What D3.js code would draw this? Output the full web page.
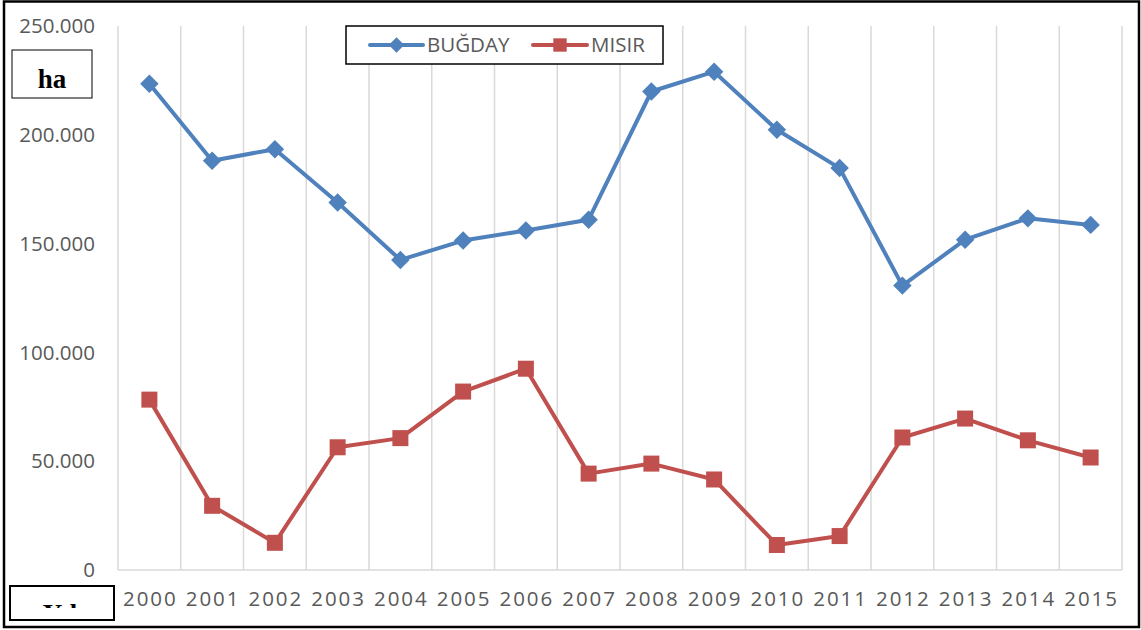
<!DOCTYPE html>
<html>
<head>
    <meta charset="utf-8">
    <title>Buğday ve Mısır Ekim Alanı</title>
    <style>
        body { margin: 0; background: #fff; }
        .tick-label { fill: #595959; font-family: "Open Sans", sans-serif; font-size: 20.5px; }
        .grid { stroke: #d9d9d9; stroke-width: 1.5px; }
        .box { fill: #fff; stroke: #000; }
        .box-text { font-family: "Liberation Serif", "DejaVu Serif", serif; font-weight: bold; font-size: 27px; fill: #000; }
    </style>
</head>
<body>
<svg width="1141" height="630"></svg>
<script src="https://d3js.org/d3.v7.min.js"></script>
<script>
const years = ["2000", "2001", "2002", "2003", "2004", "2005", "2006", "2007",
               "2008", "2009", "2010", "2011", "2012", "2013", "2014", "2015"];
const bugday = [223500, 188100, 193400, 168900, 142500, 151400, 156000, 161000,
                219900, 229000, 202300, 184700, 130700, 151800, 161600, 158600];
const misir = [78300, 29500, 12500, 56400, 60600, 82000, 92500, 44300,
               48900, 41600, 11500, 15600, 60900, 69600, 59600, 51700];
const yTicks = [0, 50000, 100000, 150000, 200000, 250000];

const svg = d3.select("svg");
const plotLeft = 118, plotRight = 1122, plotTop = 26, plotBottom = 570;

const x = d3.scaleBand().domain(years).range([plotLeft, plotRight]);
const y = d3.scaleLinear().domain([0, 250000]).range([plotBottom, plotTop]);
const fmt = d3.formatLocale({ decimal: ",", thousands: ".", grouping: [3], currency: ["", ""] }).format(",");

// outer frame
svg.append("rect")
    .attr("x", 4).attr("y", 1.5).attr("width", 1135).attr("height", 625.5)
    .attr("fill", "none").attr("stroke", "#000").attr("stroke-width", 2.5);

// vertical grid lines at category boundaries
const bounds = years.map(d => x(d)).concat([plotRight]);
svg.append("g")
    .selectAll("line")
    .data(bounds)
    .join("line")
    .attr("class", "grid")
    .attr("x1", d => d).attr("x2", d => d)
    .attr("y1", plotTop).attr("y2", plotBottom);

// bottom axis line
svg.append("line")
    .attr("class", "grid")
    .attr("x1", plotLeft).attr("x2", plotRight)
    .attr("y1", plotBottom).attr("y2", plotBottom);

// y tick labels
svg.append("g")
    .selectAll("text")
    .data(yTicks)
    .join("text")
    .attr("class", "tick-label")
    .attr("x", 95)
    .attr("y", d => y(d))
    .attr("dy", "0.35em")
    .attr("text-anchor", "end")
    .text(d => fmt(d));

// x tick labels
svg.append("g")
    .selectAll("text")
    .data(years)
    .join("text")
    .attr("class", "tick-label")
    .attr("x", d => x(d) + x.bandwidth() / 2 + 1)
    .attr("y", 606)
    .attr("text-anchor", "middle")
    .attr("letter-spacing", "2px")
    .text(d => d);

const series = [
    { name: "BUĞDAY", values: bugday, color: "#4f81bd", shape: "diamond" },
    { name: "MISIR", values: misir, color: "#c0504d", shape: "square" }
];

const cx = (d, i) => x(years[i]) + x.bandwidth() / 2;
const line = d3.line().x(cx).y(d => y(d));

function marker(g, shape, color, scale) {
    if (shape === "diamond") {
        g.append("path")
            .attr("d", d3.symbol(d3.symbolSquare, 170 * scale)())
            .attr("transform", "rotate(45)")
            .attr("fill", color);
    } else {
        const s = 16 * Math.sqrt(scale);
        g.append("rect")
            .attr("x", -s / 2).attr("y", -s / 2)
            .attr("width", s).attr("height", s)
            .attr("fill", color);
    }
}

series.forEach(s => {
    svg.append("path")
        .datum(s.values)
        .attr("fill", "none")
        .attr("stroke", s.color)
        .attr("stroke-width", 4)
        .attr("stroke-linejoin", "round")
        .attr("d", line);

    svg.append("g")
        .selectAll("g")
        .data(s.values)
        .join("g")
        .attr("transform", (d, i) => `translate(${cx(d, i)},${y(d)})`)
        .each(function () { marker(d3.select(this), s.shape, s.color, 1); });
});

// legend
const legend = svg.append("g");
legend.append("rect")
    .attr("class", "box")
    .attr("x", 346).attr("y", 26).attr("width", 317).attr("height", 38)
    .attr("stroke-width", 1.5);

const legendItems = [
    { s: series[0], x1: 370, x2: 423, tx: 427 },
    { s: series[1], x1: 533, x2: 587, tx: 591 }
];
legendItems.forEach(li => {
    legend.append("line")
        .attr("x1", li.x1).attr("x2", li.x2)
        .attr("y1", 45).attr("y2", 45)
        .attr("stroke", li.s.color).attr("stroke-width", 4)
        .attr("stroke-linecap", "round");
    const m = legend.append("g").attr("transform", `translate(${(li.x1 + li.x2) / 2},45)`);
    marker(m, li.s.shape, li.s.color, 0.7);
    legend.append("text")
        .attr("class", "tick-label")
        .attr("x", li.tx).attr("y", 45)
        .attr("dy", "0.35em")
        .text(li.s.name);
});

// "ha" text box
svg.append("rect")
    .attr("class", "box")
    .attr("x", 12).attr("y", 50).attr("width", 80).attr("height", 48)
    .attr("stroke-width", 1);
svg.append("text")
    .attr("class", "box-text")
    .attr("x", 52).attr("y", 88)
    .attr("text-anchor", "middle")
    .text("ha");

// "Yıl" text box, text clipped like the original
svg.append("clipPath").attr("id", "yil-clip")
    .append("rect").attr("x", 10).attr("y", 586).attr("width", 104).attr("height", 22);
svg.append("rect")
    .attr("class", "box")
    .attr("x", 10).attr("y", 586).attr("width", 104).attr("height", 34)
    .attr("stroke-width", 2);
svg.append("text")
    .attr("class", "box-text")
    .attr("x", 60).attr("y", 623)
    .attr("text-anchor", "middle")
    .attr("clip-path", "url(#yil-clip)")
    .text("Yıl");
</script>
</body>
</html>
